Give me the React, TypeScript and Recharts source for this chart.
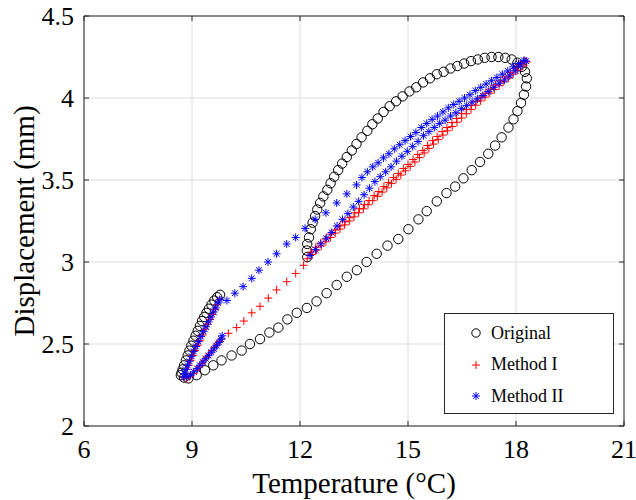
import React from 'react'
import { ScatterChart, Scatter, XAxis, YAxis, CartesianGrid, ReferenceArea } from 'recharts'

const xTicks = [6, 9, 12, 15, 18, 21]
const yTicks = [2, 2.5, 3, 3.5, 4, 4.5]

// Original (black circles)
const originalLoop: [number, number][] = [
  [9.78, 2.8], [9.7, 2.785], [9.62, 2.765], [9.54, 2.74], [9.47, 2.715], [9.4, 2.69], [9.34, 2.665],
  [9.28, 2.64], [9.22, 2.61], [9.16, 2.58], [9.1, 2.55], [9.04, 2.52], [8.98, 2.49], [8.93, 2.46],
  [8.88, 2.43], [8.83, 2.4], [8.78, 2.37], [8.74, 2.345], [8.71, 2.325], [8.69, 2.31],
]
const originalRise: [number, number][] = [
  [8.78, 2.295], [8.9, 2.29], [9.13, 2.31], [9.36, 2.34], [9.59, 2.37], [9.82, 2.4], [10.1, 2.43],
  [10.38, 2.46], [10.61, 2.5], [10.89, 2.53], [11.15, 2.57], [11.4, 2.6], [11.65, 2.65], [11.91, 2.69],
  [12.19, 2.72], [12.46, 2.76], [12.74, 2.81], [13.02, 2.86], [13.3, 2.91], [13.58, 2.95], [13.85, 3.0],
  [14.13, 3.05], [14.43, 3.1], [14.73, 3.14], [15.01, 3.2], [15.29, 3.26], [15.52, 3.31], [15.8, 3.37],
  [16.07, 3.42], [16.31, 3.46], [16.54, 3.51], [16.77, 3.56], [17.0, 3.61], [17.23, 3.66], [17.42, 3.71],
  [17.6, 3.76], [17.79, 3.82], [17.93, 3.87], [18.04, 3.92], [18.14, 3.97], [18.22, 4.02], [18.28, 4.07],
  [18.3, 4.12],
]
const originalReturn: [number, number][] = [
  [18.25, 4.16], [18.16, 4.19], [18.04, 4.215], [17.88, 4.235], [17.7, 4.245], [17.51, 4.25],
  [17.32, 4.25], [17.13, 4.245], [16.94, 4.235], [16.75, 4.225], [16.56, 4.21], [16.37, 4.195],
  [16.18, 4.18], [15.99, 4.16], [15.8, 4.145], [15.61, 4.12], [15.42, 4.095], [15.23, 4.065],
  [15.04, 4.04], [14.85, 4.01], [14.67, 3.98], [14.49, 3.95], [14.32, 3.915], [14.16, 3.875],
  [14.01, 3.84], [13.87, 3.8], [13.71, 3.76], [13.57, 3.72], [13.44, 3.68], [13.3, 3.64], [13.17, 3.6],
  [13.06, 3.56], [12.95, 3.52], [12.85, 3.48], [12.76, 3.44], [12.65, 3.4], [12.56, 3.36], [12.48, 3.32],
  [12.42, 3.28], [12.35, 3.24], [12.3, 3.2], [12.25, 3.15], [12.2, 3.11], [12.19, 3.07], [12.2, 3.03],
]

// Method I (red +)
const method1Loop: [number, number][] = [
  [9.76, 2.77], [9.7, 2.74], [9.64, 2.71], [9.57, 2.68], [9.5, 2.65], [9.43, 2.62], [9.36, 2.59],
  [9.29, 2.555], [9.22, 2.52], [9.15, 2.49], [9.08, 2.46], [9.02, 2.43], [8.96, 2.4], [8.9, 2.37],
  [8.85, 2.345], [8.8, 2.32], [8.77, 2.3], [8.84, 2.29], [8.94, 2.3], [9.04, 2.32], [9.13, 2.34],
  [9.2, 2.36], [9.27, 2.38], [9.34, 2.4], [9.41, 2.42], [9.48, 2.44], [9.55, 2.46], [9.62, 2.48],
  [9.69, 2.5], [9.76, 2.515], [9.82, 2.53],
]
const method1Link: [number, number][] = [
  [10.01, 2.565], [10.24, 2.6], [10.44, 2.64], [10.66, 2.69], [10.89, 2.73], [11.12, 2.78],
  [11.35, 2.83], [11.63, 2.88], [11.88, 2.93], [12.1, 2.98],
]
const method1Rise: [number, number][] = [
  [12.2, 3.02], [12.33, 3.046], [12.46, 3.072], [12.59, 3.098], [12.72, 3.124], [12.85, 3.15],
  [12.98, 3.176], [13.11, 3.201], [13.24, 3.226], [13.37, 3.25], [13.5, 3.275], [13.63, 3.3],
  [13.76, 3.324], [13.89, 3.349], [14.02, 3.374], [14.15, 3.4], [14.28, 3.426], [14.41, 3.452],
  [14.54, 3.478], [14.67, 3.504], [14.8, 3.53], [14.93, 3.556], [15.06, 3.583], [15.19, 3.61],
  [15.32, 3.637], [15.45, 3.665], [15.58, 3.692], [15.71, 3.719], [15.84, 3.746], [15.97, 3.774],
  [16.1, 3.8], [16.23, 3.826], [16.36, 3.852], [16.49, 3.878], [16.62, 3.904], [16.75, 3.93],
  [16.88, 3.956], [17.01, 3.982], [17.14, 4.005], [17.27, 4.029], [17.4, 4.052], [17.53, 4.075],
  [17.66, 4.099], [17.79, 4.122], [17.92, 4.146], [18.05, 4.169], [18.18, 4.195], [18.3, 4.22],
]
const method1Return: [number, number][] = [
  [18.24, 4.225], [18.11, 4.205], [17.97, 4.18], [17.84, 4.155], [17.7, 4.13], [17.57, 4.105],
  [17.43, 4.08], [17.3, 4.055], [17.16, 4.03], [17.03, 4.005], [16.89, 3.98], [16.76, 3.955],
  [16.62, 3.93], [16.49, 3.905], [16.35, 3.875], [16.22, 3.85], [16.08, 3.82], [15.95, 3.795],
  [15.81, 3.765], [15.68, 3.74], [15.54, 3.71], [15.41, 3.68], [15.27, 3.655], [15.14, 3.625],
  [15.0, 3.595], [14.87, 3.57], [14.73, 3.54], [14.6, 3.515], [14.46, 3.485], [14.33, 3.46],
  [14.19, 3.43], [14.06, 3.405], [13.92, 3.375], [13.79, 3.35], [13.65, 3.325], [13.52, 3.3],
  [13.38, 3.27], [13.25, 3.245], [13.11, 3.22], [12.98, 3.195], [12.84, 3.17], [12.71, 3.14],
  [12.57, 3.115], [12.44, 3.09], [12.3, 3.06],
]

// Method II (blue *)
const method2Loop: [number, number][] = [
  [9.78, 2.77], [9.72, 2.75], [9.66, 2.72], [9.6, 2.695], [9.53, 2.665], [9.46, 2.635], [9.39, 2.605],
  [9.32, 2.575], [9.25, 2.545], [9.18, 2.515], [9.11, 2.485], [9.05, 2.455], [8.99, 2.425], [8.93, 2.395],
  [8.88, 2.37], [8.83, 2.345], [8.79, 2.32], [8.77, 2.3], [8.86, 2.3], [8.96, 2.31], [9.05, 2.33],
  [9.14, 2.35], [9.22, 2.37], [9.3, 2.39], [9.38, 2.41], [9.46, 2.43], [9.54, 2.45], [9.61, 2.47],
  [9.68, 2.49], [9.75, 2.51], [9.81, 2.53], [9.84, 2.55],
]
const method2Rise: [number, number][] = [
  [12.28, 3.04], [12.43, 3.075], [12.58, 3.11], [12.73, 3.145], [12.88, 3.18], [13.03, 3.22],
  [13.18, 3.26], [13.33, 3.295], [13.48, 3.335], [13.63, 3.37], [13.78, 3.41], [13.93, 3.45],
  [14.08, 3.49], [14.23, 3.52], [14.38, 3.55], [14.53, 3.58], [14.68, 3.615], [14.83, 3.645],
  [14.98, 3.675], [15.13, 3.705], [15.28, 3.735], [15.43, 3.77], [15.58, 3.795], [15.73, 3.82],
  [15.88, 3.845], [16.03, 3.865], [16.18, 3.89], [16.33, 3.91], [16.48, 3.935], [16.63, 3.955],
  [16.78, 3.975], [16.93, 3.995], [17.08, 4.015], [17.23, 4.04], [17.38, 4.065], [17.53, 4.09],
  [17.68, 4.11], [17.83, 4.135], [17.98, 4.165], [18.13, 4.195], [18.28, 4.225],
]
const method2Return: [number, number][] = [
  [18.22, 4.23], [18.07, 4.21], [17.92, 4.19], [17.77, 4.165], [17.62, 4.145], [17.47, 4.125],
  [17.32, 4.105], [17.17, 4.085], [17.02, 4.065], [16.87, 4.045], [16.72, 4.02], [16.57, 4.0],
  [16.42, 3.98], [16.27, 3.96], [16.12, 3.94], [15.97, 3.915], [15.82, 3.89], [15.67, 3.87],
  [15.52, 3.845], [15.37, 3.82], [15.22, 3.79], [15.07, 3.765], [14.92, 3.74], [14.77, 3.715],
  [14.62, 3.69], [14.47, 3.66], [14.32, 3.635], [14.17, 3.605], [14.02, 3.58], [13.87, 3.55],
  [13.72, 3.515], [13.57, 3.47], [13.3, 3.415], [13.02, 3.36], [12.72, 3.3], [12.42, 3.26],
  [12.14, 3.205], [11.88, 3.15], [11.63, 3.11], [11.35, 3.05], [11.11, 3.0], [10.86, 2.95],
  [10.66, 2.9], [10.42, 2.85], [10.19, 2.81], [9.97, 2.765],
]

const toPoints = (...parts: [number, number][][]) =>
  parts.flat().map(([x, y]) => ({ x, y }))

const originalData = toPoints(originalLoop, originalRise, originalReturn)
const method1Data = toPoints(method1Loop, method1Link, method1Rise, method1Return)
const method2Data = toPoints(method2Loop, method2Rise, method2Return)

const FONT = '"Liberation Serif", "Times New Roman", Times, serif'
const INK = '#262626'
const PLOT_LEFT = 84
const PLOT_RIGHT = 624
const PLOT_TOP = 16
const PLOT_BOTTOM = 426
const TICK_LEN = 5

const XTick = ({ x, payload }: any) => (
  <g>
    <line x1={x} x2={x} y1={PLOT_BOTTOM} y2={PLOT_BOTTOM - TICK_LEN} stroke={INK} />
    <line x1={x} x2={x} y1={PLOT_TOP} y2={PLOT_TOP + TICK_LEN} stroke={INK} />
    <text x={x} y={PLOT_BOTTOM + 23} textAnchor="middle" dominantBaseline="central"
      fontFamily={FONT} fontSize={26} fill="#000">
      {payload.value}
    </text>
  </g>
)

const YTick = ({ y, payload }: any) => (
  <g>
    <line x1={PLOT_LEFT} x2={PLOT_LEFT + TICK_LEN} y1={y} y2={y} stroke={INK} />
    <line x1={PLOT_RIGHT - TICK_LEN} x2={PLOT_RIGHT} y1={y} y2={y} stroke={INK} />
    <text x={PLOT_LEFT - 10} y={y} textAnchor="end" dominantBaseline="central"
      fontFamily={FONT} fontSize={26} fill="#000">
      {payload.value}
    </text>
  </g>
)

const CircleMark = ({ cx, cy }: any) => (
  <circle cx={cx} cy={cy} r={4.7} fill="none" stroke="#000" strokeWidth={1} />
)
const PlusMark = ({ cx, cy }: any) => (
  <path d={`M${cx - 4},${cy}h8M${cx},${cy - 4}v8`} stroke="#ff0000" strokeWidth={1} fill="none" />
)
const StarMark = ({ cx, cy }: any) => (
  <path
    d={`M${cx - 4},${cy}h8M${cx},${cy - 4}v8M${cx - 2.9},${cy - 2.9}l5.8,5.8M${cx - 2.9},${cy + 2.9}l5.8,-5.8`}
    stroke="#0000ff" strokeWidth={1} fill="none"
  />
)

const legendItems = [
  { name: 'Original', icon: <circle cx={7} cy={7} r={4.2} fill="none" stroke="#000" strokeWidth={1} /> },
  { name: 'Method I', icon: <path d="M3,7h8M7,3v8" stroke="#ff0000" strokeWidth={1} /> },
  { name: 'Method II', icon: <path d="M3,7h8M7,3v8M4.2,4.2l5.6,5.6M4.2,9.8l5.6,-5.6" stroke="#0000ff" strokeWidth={1} /> },
]

export default function App() {
  return (
    <div style={{ position: 'absolute', left: 0, top: 0, width: 636, height: 500, background: '#fff' }}>
      <ScatterChart width={636} height={500} margin={{ top: 16, right: 12, bottom: 0, left: 0 }}>
        <CartesianGrid stroke="#dedede" />
        <XAxis
          type="number"
          dataKey="x"
          domain={[6, 21]}
          ticks={xTicks}
          interval={0}
          height={74}
          axisLine={false}
          tickLine={false}
          tick={XTick}
          label={{ value: 'Temperature (°C)', position: 'insideBottom', offset: 7, fontSize: 29, fontFamily: FONT, fill: '#000' }}
        />
        <YAxis
          type="number"
          dataKey="y"
          domain={[2, 4.5]}
          ticks={yTicks}
          interval={0}
          width={84}
          axisLine={false}
          tickLine={false}
          tick={YTick}
          label={{
            value: 'Displacement (mm)', angle: -90, position: 'insideLeft', offset: 24,
            fontSize: 29, fontFamily: FONT, fill: '#000', style: { textAnchor: 'middle' },
          }}
        />
        <Scatter name="Original" data={originalData} shape={CircleMark} isAnimationActive={false} />
        <Scatter name="Method I" data={method1Data} shape={PlusMark} isAnimationActive={false} />
        <Scatter name="Method II" data={method2Data} shape={StarMark} isAnimationActive={false} />
        <ReferenceArea x1={6} x2={21} y1={2} y2={4.5} fill="none" fillOpacity={0} stroke={INK} strokeWidth={1} />
      </ScatterChart>

      <div
        style={{
          position: 'absolute', left: 444, top: 313, width: 168, height: 99,
          border: `1px solid ${INK}`, background: '#fff', fontFamily: FONT, fontSize: 18, color: '#000',
        }}
      >
        {legendItems.map((item, i) => (
          <div
            key={item.name}
            style={{
              position: 'absolute', left: 24, top: 7 + i * 31.5, height: 24,
              display: 'flex', alignItems: 'center', whiteSpace: 'nowrap',
            }}
          >
            <svg width={14} height={14} style={{ marginRight: 8 }}>{item.icon}</svg>
            <span>{item.name}</span>
          </div>
        ))}
      </div>
    </div>
  )
}
